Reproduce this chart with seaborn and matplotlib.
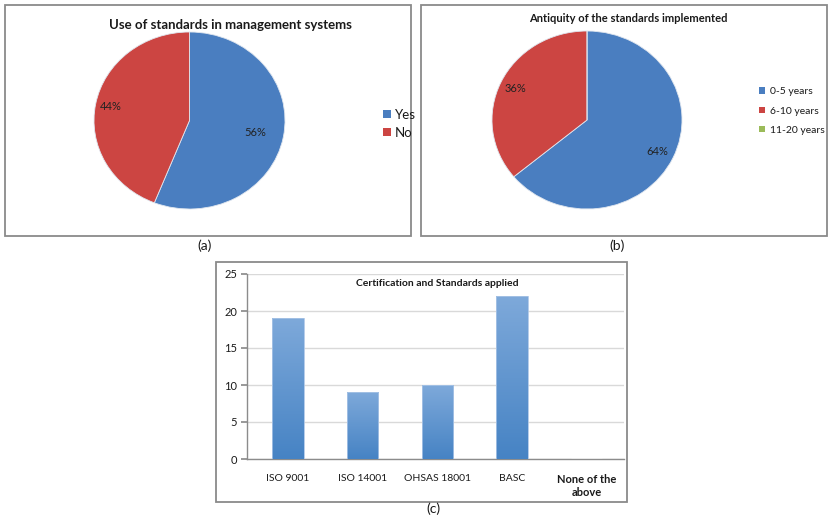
import matplotlib
matplotlib.use("Agg")
import matplotlib.pyplot as plt
from matplotlib.patches import Rectangle, Patch
from matplotlib.colors import LinearSegmentedColormap
import numpy as np
import pandas as pd
import seaborn as sns

# ---- data ----
use_labels = ["Yes", "No"]
use_share = [56, 44]

age_labels = ["0-5 years", "6-10 years", "11-20 years"]
age_share = [64, 36, 0]

cert_labels = ["ISO 9001", "ISO 14001", "OHSAS 18001", "BASC", "None of the\nabove"]
cert_counts = [19, 9, 10, 22, 0]
count_ticks = [0, 5, 10, 15, 20, 25]

# ---- style ----
sns.set_theme(style="white")
plt.rcParams["font.family"] = ["Lato", "DejaVu Sans"]

BLUE = "#4A7EC0"
RED = "#CC4542"
GREEN = "#9BBB59"
FRAME = "#8a8a8a"
TEXT = "#1a1a1a"

W, H = 829, 520
fig = plt.figure(figsize=(W / 100, H / 100), dpi=100)
fig.patch.set_facecolor("white")


def px_axes(x0, y0, x1, y1):
    return fig.add_axes([x0 / W, 1 - y1 / H, (x1 - x0) / W, (y1 - y0) / H])


def frame(x0, y0, x1, y1):
    fig.add_artist(Rectangle((x0 / W, 1 - y1 / H), (x1 - x0) / W, (y1 - y0) / H,
                             transform=fig.transFigure, fill=False,
                             edgecolor=FRAME, lw=1.3))


def ftext(x, y, s, **kw):
    fig.text(x / W, 1 - y / H, s, ha="center", va="center", color=TEXT, **kw)


def draw_pie(ax, shares, colors, label_dist, fs):
    wedges, _ = ax.pie(shares, colors=colors, startangle=90, counterclock=False,
                       wedgeprops=dict(edgecolor="#dfe6ef", linewidth=0.6))
    total = float(sum(shares))
    for w, v, d in zip(wedges, shares, label_dist):
        if v == 0:
            continue
        mid = np.deg2rad((w.theta1 + w.theta2) / 2)
        ax.text(d * np.cos(mid), d * np.sin(mid), f"{v / total * 100:.0f}%",
                ha="center", va="center", fontsize=fs, color="#222222")
    ax.set_xlim(-1, 1)
    ax.set_ylim(-1, 1)
    ax.set_aspect("auto")
    ax.axis("off")
    return wedges


# ---- (a) use of standards ----
frame(5, 5, 411, 236)
ax_a = px_axes(94, 32, 285, 209)
draw_pie(ax_a, use_share, [BLUE, RED], [0.70, 0.84], 8)
ftext(230, 25, "Use of standards in management systems", fontsize=9.5, fontweight="bold")
handles_a = [Patch(facecolor=c, edgecolor="none") for c in [BLUE, RED]]
fig.legend(handles_a, use_labels, loc="center left",
           bbox_to_anchor=(378 / W, 1 - 124 / H), frameon=False, fontsize=9.5,
           handlelength=0.55, handleheight=0.55, handletextpad=0.35,
           labelspacing=0.45, borderaxespad=0, labelcolor=TEXT)
ftext(205, 246, "(a)", fontsize=10)

# ---- (b) antiquity ----
frame(421, 5, 827, 236)
ax_b = px_axes(492, 31, 682, 209)
draw_pie(ax_b, age_share, [BLUE, RED, GREEN], [0.82, 0.83, 0.8], 8)
ftext(628, 19, "Antiquity of the standards implemented", fontsize=8, fontweight="bold")
handles_b = [Patch(facecolor=c, edgecolor="none") for c in [BLUE, RED, GREEN]]
fig.legend(handles_b, age_labels, loc="center left",
           bbox_to_anchor=(755 / W, 1 - 111 / H), frameon=False, fontsize=7.5,
           handlelength=0.55, handleheight=0.55, handletextpad=0.5,
           labelspacing=1.0, borderaxespad=0, labelcolor=TEXT)
ftext(617, 246, "(b)", fontsize=10)

# ---- (c) certifications ----
frame(216, 262, 627, 502)
ax_c = px_axes(247, 274, 624, 459)
df = pd.DataFrame({"standard": cert_labels, "count": cert_counts})
sns.barplot(data=df, x="standard", y="count", ax=ax_c, color=BLUE,
            width=0.42, saturation=1, zorder=3)
ax_c.set_xlim(-0.55, 4.5)
ax_c.set_ylim(0, 25)
ax_c.set_yticks(count_ticks)
ax_c.set_xlabel("")
ax_c.set_ylabel("")
ax_c.yaxis.grid(True, color="#d9d9d9", lw=1.0, zorder=0)
ax_c.set_axisbelow(True)
for side in ["top", "right"]:
    ax_c.spines[side].set_visible(False)
for side in ["left", "bottom"]:
    ax_c.spines[side].set_color("#8c8c8c")
    ax_c.spines[side].set_linewidth(1.0)
ax_c.tick_params(axis="y", left=True, length=4, color="#8c8c8c",
                 labelsize=8, labelcolor=TEXT, pad=3)
ax_c.tick_params(axis="x", bottom=False, labelsize=7.5, labelcolor=TEXT, pad=5)
for lab in ax_c.get_xticklabels():
    if "None" in lab.get_text():
        lab.set_fontweight("bold")
        lab.set_fontsize(8)
        lab.set_linespacing(1.15)

# vertical gradient fill for each bar
bar_cmap = LinearSegmentedColormap.from_list("bar", ["#4683C4", "#7EA9DA"])
grad = np.linspace(0, 1, 256).reshape(-1, 1)
for p in list(ax_c.patches):
    x0, w, h = p.get_x(), p.get_width(), p.get_height()
    if h <= 0:
        continue
    im = ax_c.imshow(grad, cmap=bar_cmap, origin="lower", aspect="auto",
                     extent=[x0, x0 + w, 0, h], zorder=3.5)
    im.set_clip_path(p)
    p.set_facecolor("none")
    p.set_edgecolor("#a9c4e6")
    p.set_linewidth(0.6)
    p.set_zorder(4)
ax_c.set_xlim(-0.55, 4.5)
ax_c.set_ylim(0, 25)
ax_c.set_aspect("auto")

ftext(437, 283, "Certification and Standards applied", fontsize=7.5, fontweight="bold")
ftext(433, 509, "(c)", fontsize=10)

fig.savefig("out.png", dpi=100, facecolor="white")
